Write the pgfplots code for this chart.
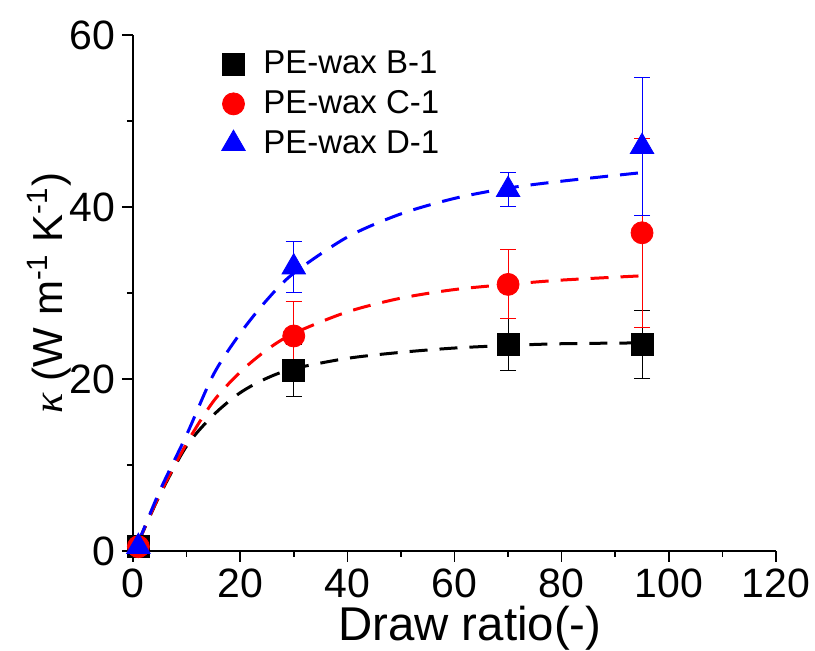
\documentclass[border=0pt]{standalone}
\usepackage{fontspec}
\setmainfont{Liberation Sans}
\newfontfamily\greekserif{Liberation Serif}
\usepackage{pgfplots}
\pgfplotsset{compat=1.18}
\newcommand{\legfont}{\fontsize{16.5}{18}\selectfont}
\begin{document}
\begin{tikzpicture}
\path[use as bounding box] (-66.5pt,-50pt) rectangle (341pt,275.5pt);
\begin{axis}[
    scale only axis, width=321.5pt, height=258pt,
    xmin=0, xmax=120, ymin=0, ymax=60,
    axis x line*=bottom, axis y line*=left,
    axis line style={line width=0.8pt},
    xtick={0,20,...,120}, ytick={0,20,40,60},
    minor x tick num=1, minor y tick num=1,
    tick align=outside,
    major tick length=5.5pt, minor tick length=3pt,
    tick style={line width=0.8pt, black},
    tick label style={font=\fontsize{20.5}{22}\selectfont},
    /pgf/number format/assume math mode=true,
    xlabel={Draw ratio(-)},
    ylabel={{\greekserif\itshape κ} (W m\textsuperscript{-1} K\textsuperscript{-1})},
    xlabel style={font=\fontsize{23.7}{25}\selectfont, at={(axis description cs:0.524,0)}, yshift=-38.5pt, anchor=center},
    ylabel style={font=\fontsize{21}{23}\selectfont, at={(axis description cs:-0.13,0.5)}, anchor=center},
    clip=false,
    legend style={at={(axis description cs:0.128,0.985)}, anchor=north west,
                  draw=none, fill=none,
                  row sep=3pt,
                  /tikz/every odd column/.append style={column sep=7pt}},
    legend cell align=left,
]
% fitted curves
\addplot[black, line width=1.5pt, dash pattern=on 9pt off 6pt, smooth, forget plot] coordinates {
    (1,1) (5,6.5) (10,12.2) (15,15.8) (20,18.4) (25,20.1) (30,21.2) (40,22.4)
    (50,23.1) (60,23.6) (70,23.9) (80,24.1) (95,24.2)
};
\addplot[red, line width=1.5pt, dash pattern=on 9pt off 6pt, smooth, forget plot] coordinates {
    (1,1) (5,6.6) (10,12.5) (15,17.4) (20,20.8) (25,23.4) (30,25.3) (40,27.8)
    (50,29.4) (60,30.4) (70,31.0) (80,31.5) (95,32.0)
};
\addplot[blue, line width=1.5pt, dash pattern=on 9pt off 6pt, smooth, forget plot] coordinates {
    (1,1) (5,7) (10,13.5) (15,20.5) (20,25.3) (25,29.2) (30,32.3) (40,36.5)
    (50,39.2) (60,41.0) (70,42.2) (80,43.0) (95,44.0)
};
% data with error bars
\addplot[black, only marks, mark=square*, mark size=5.5pt, forget plot,
    error bars/.cd, y dir=both, y explicit,
    error bar style={line width=0.5pt, black}, error mark options={rotate=90, mark size=4pt, line width=0.5pt, black}]
    coordinates {(1,0.5) +- (0,0) (30,21) +- (0,3) (70,24) +- (0,3) (95,24) +- (0,4)};
\addplot[red, only marks, mark=*, mark size=5.5pt, forget plot,
    error bars/.cd, y dir=both, y explicit,
    error bar style={line width=0.5pt, red}, error mark options={rotate=90, mark size=4pt, line width=0.5pt, red}]
    coordinates {(1,0.5) +- (0,0) (30,25) +- (0,4) (70,31) +- (0,4) (95,37) +- (0,11)};
\addplot[blue, only marks, mark=triangle*, mark size=6.8pt, forget plot,
    error bars/.cd, y dir=both, y explicit,
    error bar style={line width=0.5pt, blue}, error mark options={rotate=90, mark size=4pt, line width=0.5pt, blue}]
    coordinates {(1,0.5) +- (0,0) (30,33) +- (0,3) (70,42) +- (0,2) (95,47) +- (0,8)};
% legend
\addlegendimage{only marks, mark=square*, mark size=5.5pt, black}
\addlegendentry{\legfont PE-wax B-1}
\addlegendimage{only marks, mark=*, mark size=5.5pt, red}
\addlegendentry{\legfont PE-wax C-1}
\addlegendimage{only marks, mark=triangle*, mark size=6.8pt, blue}
\addlegendentry{\legfont PE-wax D-1}
\end{axis}
\end{tikzpicture}
\end{document}
